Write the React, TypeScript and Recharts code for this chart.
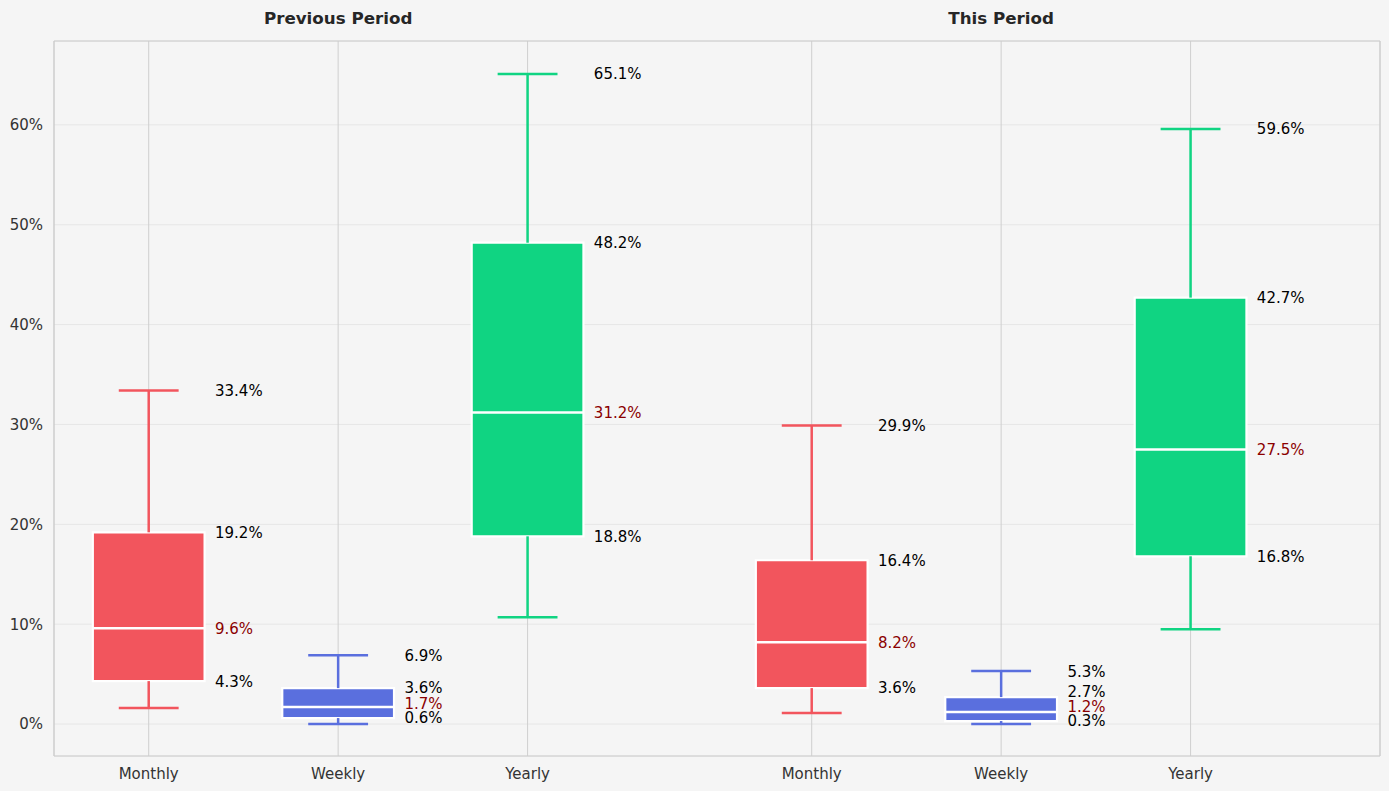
import React from 'react';
import {
  ComposedChart,
  XAxis,
  YAxis,
  CartesianGrid,
  ReferenceArea,
  ReferenceLine,
  Scatter,
} from 'recharts';

// ---- data ----
const categories = ['Monthly', 'Weekly', 'Yearly', 'Monthly', 'Weekly', 'Yearly'];
const positions = [0, 1, 2, 3.5, 4.5, 5.5];
const groupTitles = ['Previous Period', 'This Period'];
const groupCenters = [1, 4.5];
const mins = [1.6, 0.0, 10.7, 1.1, 0.0, 9.5];
const q1s = [4.3, 0.6, 18.8, 3.6, 0.3, 16.8];
const medians = [9.6, 1.7, 31.2, 8.2, 1.2, 27.5];
const q3s = [19.2, 3.6, 48.2, 16.4, 2.7, 42.7];
const maxs = [33.4, 6.9, 65.1, 29.9, 5.3, 59.6];
const yTicks = [0, 10, 20, 30, 40, 50, 60];

const typeColors: Record<string, string> = {
  Monthly: '#F2555D',
  Weekly: '#5A6FDE',
  Yearly: '#10D482',
};

const X_DOMAIN: [number, number] = [-0.5, 6.5];
const Y_DOMAIN: [number, number] = [-3.2, 68.4];
const BOX_HALF = 0.295;
const CAP_HALF = 0.158;
const LABEL_DX = 0.35;
const MIN_GAP = 1.45;
const FONT = '"DejaVu Sans", sans-serif';

// label layout: spread labels upward so they do not overlap
const labelData = positions.flatMap((x, i) => {
  const vals = [q1s[i], medians[i], q3s[i], maxs[i]];
  const colorsFor = ['#000000', '#8B0000', '#000000', '#000000'];
  const out: { x: number; y: number; text: string; color: string }[] = [];
  let prev = -Infinity;
  vals.forEach((v, k) => {
    const y = Math.max(v, prev + MIN_GAP);
    prev = y;
    out.push({ x: x + LABEL_DX, y, text: v.toFixed(1) + '%', color: colorsFor[k] });
  });
  return out;
});

const LabelShape = (p: any) => (
  <text
    x={p.cx}
    y={p.cy}
    dy="0.36em"
    fontSize={15}
    fontFamily={FONT}
    fill={p.payload.color}
    textAnchor="start"
  >
    {p.payload.text}
  </text>
);

export default function App() {
  return (
    <div style={{ position: 'fixed', inset: 0, background: '#F5F5F5' }}>
      <ComposedChart
        width={1389}
        height={791}
        margin={{ top: 41, right: 9, bottom: 0, left: 0 }}
        style={{ fontFamily: FONT }}
      >
        <CartesianGrid horizontal={true} vertical={false} stroke="#E6E6E6" strokeWidth={1} />
        <CartesianGrid horizontal={false} vertical={true} stroke="#CFCFCF" strokeWidth={1} />
        <XAxis
          type="number"
          dataKey="x"
          domain={X_DOMAIN}
          ticks={positions}
          interval={0}
          allowDataOverflow
          tickFormatter={(v: number) => categories[positions.indexOf(v)] ?? ''}
          axisLine={false}
          tickLine={false}
          tickSize={0}
          tickMargin={12}
          height={35}
          tick={{ fill: '#333333', fontSize: 15, fontFamily: FONT }}
        />
        <YAxis
          type="number"
          dataKey="y"
          domain={Y_DOMAIN}
          ticks={yTicks}
          interval={0}
          allowDataOverflow
          tickFormatter={(v: number) => `${v}%`}
          axisLine={false}
          tickLine={false}
          tickSize={0}
          tickMargin={11}
          width={54}
          tick={{ fill: '#333333', fontSize: 15, fontFamily: FONT }}
        />

        {groupTitles.map((t, g) => (
          <ReferenceLine
            key={'title' + g}
            x={groupCenters[g]}
            stroke="none"
            label={{
              value: t,
              position: 'top',
              offset: 17,
              fill: '#262626',
              fontSize: 16.7,
              fontWeight: 'bold',
              fontFamily: FONT,
            }}
          />
        ))}

        {positions.map((x, i) => {
          const c = typeColors[categories[i]];
          return (
            <React.Fragment key={'w' + i}>
              <ReferenceLine
                segment={[{ x, y: q3s[i] }, { x, y: maxs[i] }]}
                stroke={c}
                strokeWidth={2.5}
                ifOverflow="visible"
              />
              <ReferenceLine
                segment={[{ x, y: mins[i] }, { x, y: q1s[i] }]}
                stroke={c}
                strokeWidth={2.5}
                ifOverflow="visible"
              />
              <ReferenceLine
                segment={[{ x: x - CAP_HALF, y: maxs[i] }, { x: x + CAP_HALF, y: maxs[i] }]}
                stroke={c}
                strokeWidth={2.5}
                ifOverflow="visible"
              />
              <ReferenceLine
                segment={[{ x: x - CAP_HALF, y: mins[i] }, { x: x + CAP_HALF, y: mins[i] }]}
                stroke={c}
                strokeWidth={2.5}
                ifOverflow="visible"
              />
            </React.Fragment>
          );
        })}

        {positions.map((x, i) => (
          <ReferenceArea
            key={'b' + i}
            x1={x - BOX_HALF}
            x2={x + BOX_HALF}
            y1={q1s[i]}
            y2={q3s[i]}
            fill={typeColors[categories[i]]}
            fillOpacity={1}
            stroke="#FFFFFF"
            strokeWidth={2.2}
            ifOverflow="visible"
          />
        ))}

        {positions.map((x, i) => (
          <ReferenceLine
            key={'m' + i}
            segment={[{ x: x - BOX_HALF, y: medians[i] }, { x: x + BOX_HALF, y: medians[i] }]}
            stroke="#FFFFFF"
            strokeWidth={2.5}
            ifOverflow="visible"
          />
        ))}

        <ReferenceArea
          x1={X_DOMAIN[0]}
          x2={X_DOMAIN[1]}
          y1={Y_DOMAIN[0]}
          y2={Y_DOMAIN[1]}
          fill="none"
          fillOpacity={0}
          stroke="#CCCCCC"
          strokeWidth={1}
          ifOverflow="visible"
        />

        <Scatter data={labelData} shape={LabelShape} isAnimationActive={false} />
      </ComposedChart>
    </div>
  );
}
